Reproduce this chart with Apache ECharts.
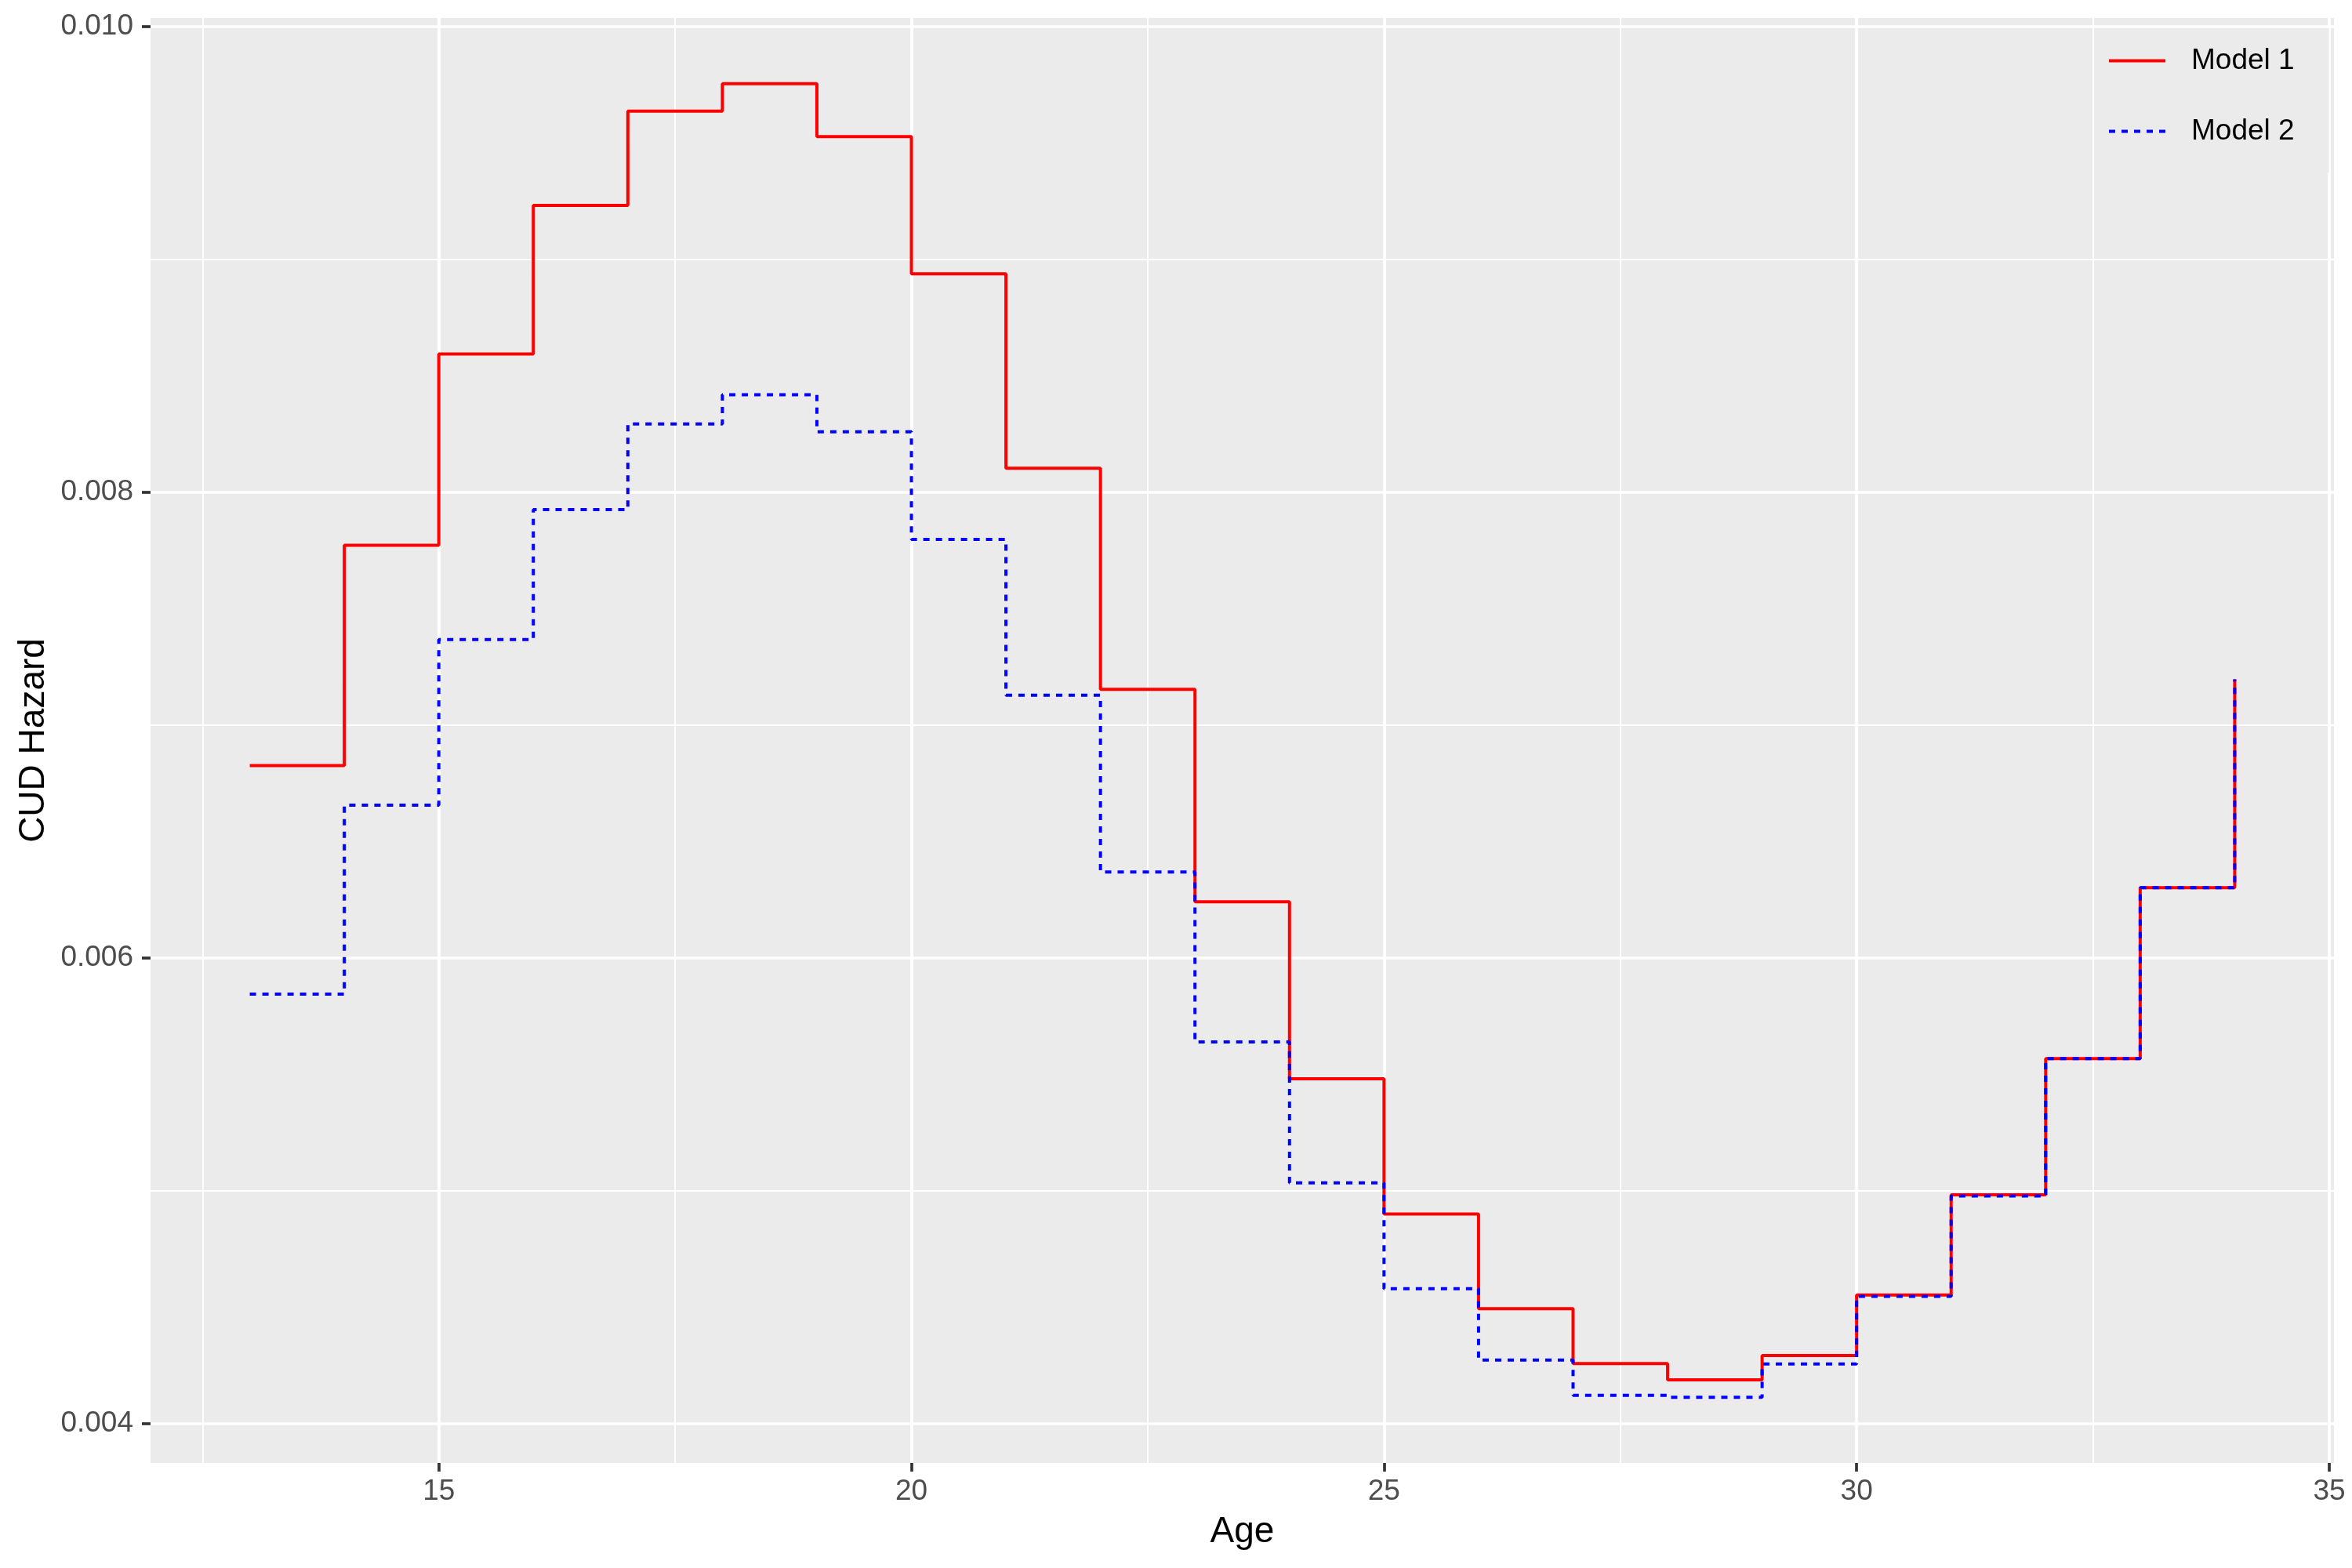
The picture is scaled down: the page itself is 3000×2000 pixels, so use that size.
<!DOCTYPE html>
<html>
<head>
<meta charset="utf-8">
<script src="https://cdn.jsdelivr.net/npm/echarts@6/dist/echarts.min.js"></script>
<style>
html,body{margin:0;padding:0;background:#fff;}
#chart{width:3000px;height:2000px;}
</style>
</head>
<body>
<div id="chart"></div>
<script>
// ---- data ----
var ages = [13,14,15,16,17,18,19,20,21,22,23,24,25,26,27,28,29,30,31,32,33,34];
var model1 = [0.006826,0.007772,0.008593,0.009231,0.009636,0.009754,0.009527,0.008938,0.008103,0.007153,0.006241,0.005481,0.004900,0.004493,0.004258,0.004188,0.004292,0.004552,0.004982,0.005567,0.006301,0.007196];
var model2 = [0.005844,0.006656,0.007367,0.007925,0.008293,0.008418,0.008259,0.007797,0.007128,0.006369,0.005639,0.005034,0.004579,0.004273,0.004121,0.004113,0.004256,0.004546,0.004977,0.005567,0.006301,0.007196];
var seriesNames = ['Model 1','Model 2'];
var xTicks = [15,20,25,30,35];
var xMinor = [12.5,17.5,22.5,27.5,32.5];
var yTicks = [0.004,0.006,0.008,0.010];
var yMinor = [0.005,0.007,0.009];

// ggplot-style 5% expansion
var allY = model1.concat(model2);
var yLo = Math.min.apply(null, allY), yHi = Math.max.apply(null, allY);
var yPad = (yHi - yLo) * 0.05;
var xLo = Math.min.apply(null, ages), xHi = Math.max.apply(null, ages);
var xPad = (xHi - xLo) * 0.05;
var XMIN = xLo - xPad, XMAX = xHi + xPad, YMIN = yLo - yPad, YMAX = yHi + yPad;

function pairs(xs, ys){ return xs.map(function(x,i){ return [x, ys[i]]; }); }

var FONT = 'Liberation Sans';
var chart = echarts.init(document.getElementById('chart'), null, {renderer:'canvas'});

function minorAxis(vals){
  return {
    type: 'value', min: (vals === xMinor ? XMIN : YMIN), max: (vals === xMinor ? XMAX : YMAX),
    axisLine: {show: false},
    axisTick: {show: false, customValues: vals},
    axisLabel: {show: false, customValues: vals},
    splitLine: {show: true, lineStyle: {color: '#FFFFFF', width: 2}}
  };
}

chart.setOption({
  animation: false,
  backgroundColor: '#FFFFFF',
  grid: {
    left: 192, right: 23, top: 23, bottom: 134,
    show: true, backgroundColor: '#EBEBEB', borderWidth: 0
  },
  legend: {
    data: seriesNames,
    orient: 'vertical',
    left: 2672, top: 36,
    itemWidth: 72, itemHeight: 14, itemGap: 53,
    padding: [23, 44, 34, 16],
    backgroundColor: '#EBEBEB',
    itemStyle: {opacity: 0},
    lineStyle: {width: 4},
    textStyle: {fontFamily: FONT, fontSize: 37, color: '#000000', padding: [0,0,0,28]}
  },
  xAxis: [{
    type: 'value', min: XMIN, max: XMAX,
    axisLine: {show: false},
    splitLine: {show: true, lineStyle: {color: '#FFFFFF', width: 3.7}},
    axisTick: {show: true, customValues: xTicks, length: 11, lineStyle: {color: '#333333', width: 3.7}},
    axisLabel: {customValues: xTicks, margin: 18, fontFamily: FONT, fontSize: 37, color: '#4D4D4D'},
    name: 'Age', nameLocation: 'middle', nameGap: 65,
    nameTextStyle: {fontFamily: FONT, fontSize: 46, color: '#000000'}
  }, minorAxis(xMinor)],
  yAxis: [{
    type: 'value', min: YMIN, max: YMAX,
    axisLine: {show: false},
    splitLine: {show: true, lineStyle: {color: '#FFFFFF', width: 3.7}},
    axisTick: {show: true, customValues: yTicks, length: 11, lineStyle: {color: '#333333', width: 3.7}},
    axisLabel: {customValues: yTicks, margin: 22, fontFamily: FONT, fontSize: 37, color: '#4D4D4D',
      formatter: function(v){ return v.toFixed(3); }},
    name: 'CUD Hazard', nameLocation: 'middle', nameGap: 120, nameRotate: 90,
    nameTextStyle: {fontFamily: FONT, fontSize: 46, color: '#000000'}
  }, minorAxis(yMinor)],
  series: [
    {
      name: seriesNames[0], type: 'line', step: 'end', z: 3,
      data: pairs(ages, model1),
      symbol: 'none', showSymbol: false,
      lineStyle: {color: '#FF0000', width: 4},
      itemStyle: {color: '#FF0000'},
      emphasis: {disabled: true}
    },
    {
      name: seriesNames[1], type: 'line', step: 'end', z: 4,
      data: pairs(ages, model2),
      symbol: 'none', showSymbol: false,
      lineStyle: {color: '#0000FF', width: 4, type: [8, 8]},
      itemStyle: {color: '#0000FF'},
      emphasis: {disabled: true}
    }
  ]
});
</script>
</body>
</html>
